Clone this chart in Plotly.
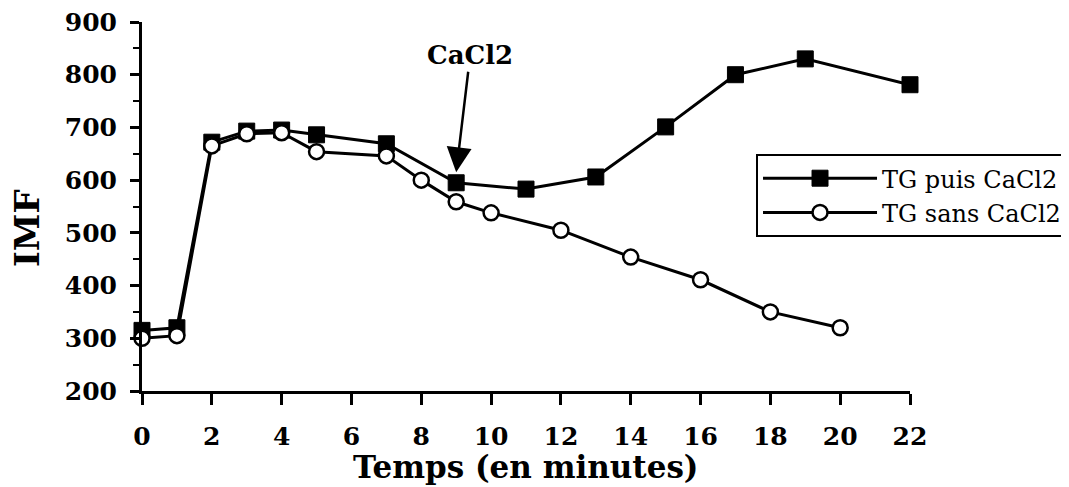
import plotly.graph_objects as go

# Data
t_puis = [0, 1, 2, 3, 4, 5, 7, 9, 11, 13, 15, 17, 19, 22]
imf_puis = [315, 320, 672, 693, 695, 686, 669, 595, 583, 606, 701, 800, 830, 781]

t_sans = [0, 1, 2, 3, 4, 5, 7, 8, 9, 10, 12, 14, 16, 18, 20]
imf_sans = [300, 305, 665, 688, 690, 654, 646, 600, 559, 538, 505, 454, 411, 350, 320]

x_ticks = list(range(0, 23, 2))
y_ticks = list(range(200, 901, 100))

arrow_x = 9
arrow_y = 615

FONT = "DejaVu Serif"

fig = go.Figure()
fig.add_trace(go.Scatter(
    x=t_puis, y=imf_puis, name="TG puis CaCl2", mode="lines+markers",
    line=dict(color="black", width=3), cliponaxis=False,
    marker=dict(symbol="square", size=16, color="black", line=dict(color="black", width=1)),
))
fig.add_trace(go.Scatter(
    x=t_sans, y=imf_sans, name="TG sans CaCl2", mode="lines+markers",
    line=dict(color="black", width=3), cliponaxis=False,
    marker=dict(symbol="circle", size=15, color="white", line=dict(color="black", width=2.5)),
))

# The page body adds an 8px offset: place the figure to compensate.
# autoexpand=False keeps the legend from shrinking the plot area.
fig.update_layout(
    width=1061, height=479,
    margin=dict(l=134, r=159, t=14, b=96, pad=0, autoexpand=False),
    paper_bgcolor="white", plot_bgcolor="white",
    showlegend=True,
    legend=dict(
        x=0.7995, y=0.642, xanchor="left", yanchor="top",
        bgcolor="white", bordercolor="black", borderwidth=2,
        font=dict(family=FONT, size=24, color="black"),
        itemwidth=114, tracegroupgap=0,
    ),
    font=dict(family=FONT, color="black"),
)

fig.update_xaxes(
    range=[0, 22], tickvals=x_ticks, ticktext=[str(v) for v in x_ticks],
    showgrid=False, zeroline=False, automargin=False,
    showline=True, linecolor="black", linewidth=3,
    ticks="outside", ticklen=11, tickwidth=3, tickcolor="black",
    tickfont=dict(family=FONT, size=25, color="black", weight="bold"),
    ticklabelstandoff=10, ticklabeloverflow="allow",
)
fig.update_yaxes(
    range=[200, 900], tickvals=y_ticks, ticktext=[str(v) for v in y_ticks],
    showgrid=False, zeroline=False, automargin=False,
    showline=True, linecolor="black", linewidth=3,
    ticks="outside", ticklen=9, tickwidth=3, tickcolor="black",
    minor=dict(dtick=50, ticks="outside", ticklen=6, tickwidth=2, tickcolor="black", showgrid=False),
    tickfont=dict(family=FONT, size=25, color="black", weight="bold"),
    ticklabelstandoff=8, ticklabeloverflow="allow",
)

# Axis titles
fig.add_annotation(
    xref="paper", yref="paper", x=-0.1497, y=0.4417,
    text="IMF", textangle=-90, showarrow=False,
    xanchor="center", yanchor="middle",
    font=dict(family=FONT, size=34, color="black", weight="bold"),
)
fig.add_annotation(
    xref="paper", yref="paper", x=0.5, y=-0.205,
    text="Temps (en minutes)", showarrow=False,
    xanchor="center", yanchor="middle",
    font=dict(family=FONT, size=31, color="black", weight="bold"),
)

# CaCl2 arrow
fig.add_annotation(
    x=arrow_x, y=arrow_y, xref="x", yref="y",
    text="CaCl2", showarrow=True, ax=14, ay=-117,
    arrowhead=2, arrowsize=2, arrowwidth=2.5, arrowcolor="black",
    font=dict(family=FONT, size=26, color="black", weight="bold"),
)

fig.write_html("out.html")
